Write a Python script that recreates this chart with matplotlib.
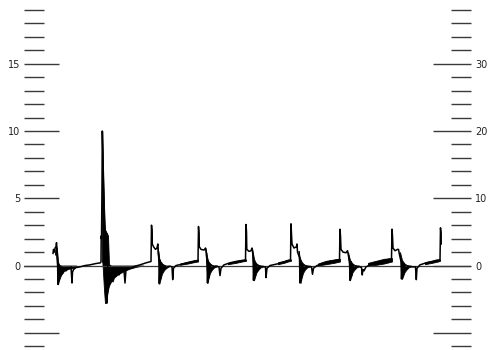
import matplotlib
matplotlib.use("Agg")
import matplotlib.pyplot as plt

# trace: (time position, left-scale value)
trace = [
    (53, 0.9), (53.5, 1.2), (54.5, 1.0), (55, 1.3), (56, 1.4), (56.5, 1.7), (57, 1.2),
    (57.5, 0.4), (58, -1.4), (58.5, 0.1), (59, -1.1), (59.5, 0.0), (60.5, -0.8),
    (61.5, -0.1), (62.5, -0.6), (64, -0.2), (66, -0.4), (68, -0.15), (70, -0.2),
    (71, -0.1), (72, -1.3), (72.5, -0.5), (73.5, -0.3), (76, -0.15), (80, -0.1),
    (85, 0.0), (90, 0.05), (96, 0.15), (100.5, 0.2),
    (101, 0.3), (101.2, 2.2), (101.5, 2.0), (102, 6.0), (102.3, 10.0), (102.8, 8.5),
    (103.3, 6.5), (103.8, 5.0), (104.2, 3.0), (105, 2.6), (106.5, 2.4), (107.5, 2.2),
    (108, 0.5), (106.8, -2.8), (108, -1.5), (110, -0.6), (113, -1.2), (116, -0.3),
    (119, -0.7), (122, -0.2), (124, -0.4), (125, -1.3), (126, -0.3), (130, -0.2),
    (135, -0.05), (140, 0.05), (146, 0.2), (151, 0.3),
    (151.5, 3.0), (152, 2.6), (152.3, 1.6), (153.5, 1.4), (155.5, 1.2), (157, 1.3),
    (157.8, 1.6), (158.3, 1.0), (159, 0.3), (159.3, -1.35), (160, 0.4), (160.5, -1.0),
    (161.5, 0.2), (162.5, -0.5), (164, 0.0), (166, -0.15), (170, -0.05), (172, -0.1),
    (172.7, -1.05), (173.5, -0.2), (176, 0.0), (182, 0.1), (188, 0.2), (194, 0.3),
    (198, 0.35),
    (198.5, 2.9), (199, 2.4), (199.3, 1.4), (201, 1.2), (204, 1.15), (205.5, 1.3),
    (206.5, 0.9), (207, 0.2), (207.5, -1.3), (208.2, 0.3), (209, -0.9), (210, 0.1),
    (211, -0.4), (213, -0.1), (216, -0.05), (219, -0.1), (220, -0.75), (221, -0.2),
    (224, 0.05), (230, 0.2), (236, 0.3), (242, 0.35), (245.5, 0.4),
    (246, 3.05), (246.5, 2.5), (246.8, 1.2), (249, 1.05), (251, 1.1), (252, 1.3),
    (253, 0.8), (253.5, -1.1), (254.2, 0.3), (255, -0.8), (256, 0.1), (257.5, -0.4),
    (259, -0.05), (263, -0.1), (265.5, -0.1), (266, -0.9), (267, -0.2), (270, 0.0),
    (276, 0.1), (282, 0.2), (287, 0.35), (290.5, 0.4),
    (291, 3.1), (291.5, 2.4), (292, 1.6), (294, 1.3), (296.5, 1.4), (297, 1.6),
    (297.5, 1.0), (299.5, 0.6), (300, -1.3), (300.7, 0.3), (301.5, -0.9), (302.5, 0.1),
    (304, -0.3), (306, -0.05), (310, -0.1), (311.5, -0.1), (312.5, -0.65),
    (313.5, -0.2), (317, 0.0), (323, 0.15), (330, 0.3), (336, 0.4), (339.5, 0.45),
    (340, 2.7), (340.5, 2.2), (341, 1.2), (343, 1.0), (346, 0.95), (347.5, 1.1),
    (348.5, 0.7), (349.5, 0.3), (350, -1.1), (350.8, 0.3), (351.5, -0.8), (352.5, 0.1),
    (354, -0.3), (356, -0.05), (360, -0.1), (361.5, -0.15), (362.3, -0.7),
    (362.8, -0.3), (364, -0.4), (366, -0.1), (370, 0.05), (376, 0.2), (383, 0.35),
    (388, 0.45), (391.5, 0.5),
    (392, 2.7), (392.5, 2.2), (393, 1.3), (395, 1.1), (397.5, 1.2), (398.5, 1.2),
    (399.5, 0.8), (401, 0.3), (401.5, -1.0), (402.3, 0.3), (403, -0.8), (404, 0.1),
    (405.5, -0.3), (408, -0.05), (412, -0.1), (415.5, -0.1), (416.3, -1.05),
    (417, -0.2), (420, 0.05), (426, 0.2), (432, 0.3), (437, 0.4), (440, 0.4),
    (440.5, 2.8), (441, 2.4), (441.2, 1.6),
]

# dense oscillation smears (filled black): time, upper edge, lower edge
smears = [
    ([55, 56, 57, 58, 59, 61, 64, 68, 72, 76],
     [1.0, 1.5, 1.2, 0.3, 0.05, 0.0, 0.0, 0.0, 0.0, 0.0],
     [0.8, 0.9, 0.0, -1.4, -1.1, -0.7, -0.4, -0.25, -0.2, -0.1]),
    ([101.8, 102.3, 103, 104, 105, 106, 107, 108, 109, 111, 114, 118, 123, 129, 136, 143],
     [2.0, 10.0, 7.5, 4.5, 2.7, 2.5, 2.4, 2.2, 0.1, 0.0, 0.0, 0.0, 0.0, 0.0, 0.0, 0.0],
     [0.3, 0.3, -0.5, -1.8, -2.8, -2.7, -2.2, -1.8, -1.5, -1.2, -0.9, -0.65, -0.45, -0.25, -0.1, 0.0]),
    ([157.5, 158.5, 159.3, 160.5, 162, 164, 166, 169],
     [1.4, 1.0, 0.5, 0.3, 0.15, 0.05, 0.0, 0.0],
     [1.0, 0.2, -1.35, -1.0, -0.6, -0.35, -0.2, -0.05]),
    ([205.5, 206.5, 207.5, 208.5, 210, 212, 214, 217],
     [1.3, 0.9, 0.5, 0.3, 0.15, 0.05, 0.0, 0.0],
     [0.9, 0.1, -1.3, -0.95, -0.55, -0.3, -0.15, -0.05]),
    ([252, 253, 254, 255, 256.5, 258.5, 260.5, 263],
     [1.3, 0.9, 0.5, 0.3, 0.15, 0.05, 0.0, 0.0],
     [0.9, 0.1, -1.1, -0.85, -0.5, -0.3, -0.15, -0.05]),
    ([298.5, 299.5, 300.5, 301.5, 303, 305, 307, 310],
     [1.1, 0.7, 0.45, 0.3, 0.15, 0.05, 0.0, 0.0],
     [0.8, 0.1, -1.3, -0.95, -0.55, -0.3, -0.15, -0.05]),
    ([348, 349, 350, 351, 352.5, 354.5, 356.5, 359],
     [1.0, 0.7, 0.4, 0.3, 0.15, 0.05, 0.0, 0.0],
     [0.7, 0.1, -1.1, -0.85, -0.5, -0.3, -0.15, -0.05]),
    ([400, 401, 402, 403, 404.5, 406.5, 408.5, 411],
     [1.0, 0.7, 0.4, 0.3, 0.15, 0.05, 0.0, 0.0],
     [0.7, 0.1, -1.0, -0.8, -0.5, -0.3, -0.15, -0.05]),
    # thickened baseline before each spike
    ([180, 188, 194, 198], [0.15, 0.3, 0.4, 0.45], [0.05, 0.15, 0.25, 0.3]),
    ([228, 236, 242, 246], [0.2, 0.35, 0.45, 0.45], [0.1, 0.2, 0.3, 0.35]),
    ([278, 284, 288, 291], [0.25, 0.35, 0.45, 0.45], [0.1, 0.2, 0.3, 0.35]),
    ([318, 326, 334, 340], [0.15, 0.35, 0.45, 0.5], [0.0, 0.1, 0.2, 0.3]),
    ([368, 376, 384, 392], [0.2, 0.35, 0.5, 0.55], [0.0, 0.05, 0.15, 0.3]),
    ([425, 432, 438, 440], [0.25, 0.35, 0.45, 0.45], [0.1, 0.2, 0.3, 0.35]),
]

left_major = [-5, 0, 5, 10, 15]
left_labels = ['', '0', '5', '10', '15']
right_major = [-10, 0, 10, 20, 30]
right_labels = ['', '0', '10', '20', '30']

tick_col = '#3a3a3a'

fig = plt.figure(figsize=(4.94, 3.5), dpi=100)
ax = fig.add_axes([24 / 494, 0, (471 - 24) / 494, 1])
ax.set_xlim(24, 471)
ax.set_ylim(-6.28, 19.74)
for s in ax.spines.values():
    s.set_visible(False)
ax.set_xticks([])

ax.set_yticks(left_major)
ax.set_yticklabels(left_labels)
ax.set_yticks([v for v in range(-6, 20) if v not in left_major], minor=True)
ax.tick_params(axis='y', which='major', direction='in', length=25, width=1.0,
               color=tick_col, labelsize=7, pad=2.5, labelcolor='#222')
ax.tick_params(axis='y', which='minor', direction='in', length=14.4, width=1.0,
               color=tick_col)

ax2 = ax.twinx()
ax2.set_ylim(-12.56, 39.48)
for s in ax2.spines.values():
    s.set_visible(False)
ax2.set_yticks(right_major)
ax2.set_yticklabels(right_labels)
ax2.set_yticks([v for v in range(-12, 40, 2) if v not in right_major], minor=True)
ax2.tick_params(axis='y', which='major', direction='in', length=27.4, width=1.0,
                color=tick_col, labelsize=7, pad=3, labelcolor='#222')
ax2.tick_params(axis='y', which='minor', direction='in', length=14.4, width=1.0,
                color=tick_col)

ax.axhline(0, color=tick_col, lw=0.9)

for t, hi, lo in smears:
    ax.fill_between(t, lo, hi, color='black', lw=0.6)

tt = [p[0] for p in trace]
vv = [p[1] for p in trace]
ax.plot(tt, vv, color='black', lw=1.1)

fig.savefig('out.png', dpi=100)
